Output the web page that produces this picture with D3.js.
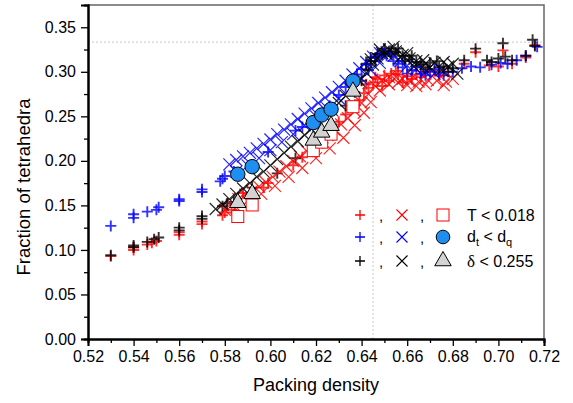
<!DOCTYPE html>
<html>
<head>
<meta charset="utf-8">
<script src="https://cdn.jsdelivr.net/npm/d3@7"></script>
<style>
  body { margin: 0; background: #fff; }
  text { font-family: "Liberation Sans", Arial, sans-serif; }
</style>
</head>
<body>
<svg width="573" height="403"></svg>
<script>
// x ticks / y ticks
const xTicks = [0.52, 0.54, 0.56, 0.58, 0.60, 0.62, 0.64, 0.66, 0.68, 0.70, 0.72];
const yTicks = [0.00, 0.05, 0.10, 0.15, 0.20, 0.25, 0.30, 0.35];

// plus markers [packing density, fraction]
const redPlus = [[0.530,0.093],[0.540,0.100],[0.540,0.103],[0.546,0.106],[0.548,0.108],[0.550,0.110],[0.560,0.117],[0.560,0.120],[0.570,0.129],[0.570,0.132],[0.579,0.139],[0.580,0.142],[0.583,0.145],[0.588,0.164],[0.597,0.170],[0.599,0.175],[0.610,0.195],[0.614,0.204],[0.619,0.211],[0.623,0.220],[0.627,0.232],[0.630,0.244],[0.633,0.252],[0.636,0.260],[0.639,0.268],[0.641,0.276],[0.642,0.286],[0.643,0.282],[0.645,0.288],[0.646,0.294],[0.647,0.292],[0.649,0.284],[0.650,0.296],[0.652,0.290],[0.653,0.298],[0.655,0.301],[0.656,0.297],[0.658,0.288],[0.660,0.295],[0.662,0.292],[0.664,0.297],[0.666,0.294],[0.668,0.300],[0.672,0.301],[0.674,0.296],[0.676,0.300],[0.685,0.309],[0.690,0.322],[0.696,0.307],[0.700,0.306],[0.702,0.324],[0.706,0.309],[0.712,0.316],[0.716,0.330]];
const bluePlus = [[0.530,0.127],[0.540,0.136],[0.540,0.140],[0.546,0.143],[0.550,0.145],[0.551,0.148],[0.560,0.155],[0.560,0.157],[0.570,0.165],[0.570,0.168],[0.578,0.177],[0.579,0.180],[0.580,0.183],[0.584,0.188],[0.599,0.210],[0.611,0.234],[0.614,0.238],[0.626,0.262],[0.630,0.274],[0.633,0.283],[0.636,0.291],[0.638,0.297],[0.640,0.303],[0.642,0.308],[0.644,0.312],[0.646,0.316],[0.648,0.318],[0.651,0.318],[0.654,0.312],[0.656,0.309],[0.658,0.305],[0.660,0.298],[0.662,0.302],[0.664,0.306],[0.666,0.298],[0.668,0.296],[0.670,0.300],[0.672,0.303],[0.674,0.299],[0.676,0.296],[0.680,0.300],[0.684,0.304],[0.688,0.306],[0.692,0.305],[0.697,0.308],[0.701,0.310],[0.704,0.309],[0.708,0.313],[0.712,0.318],[0.717,0.328]];
const blackPlus = [[0.530,0.094],[0.540,0.103],[0.540,0.105],[0.546,0.109],[0.549,0.112],[0.551,0.114],[0.560,0.122],[0.560,0.125],[0.570,0.135],[0.570,0.138],[0.579,0.149],[0.581,0.152],[0.584,0.154],[0.592,0.170],[0.603,0.186],[0.611,0.203],[0.619,0.221],[0.627,0.241],[0.633,0.262],[0.637,0.277],[0.640,0.290],[0.642,0.309],[0.643,0.302],[0.644,0.316],[0.646,0.312],[0.647,0.320],[0.649,0.320],[0.650,0.326],[0.652,0.323],[0.653,0.320],[0.655,0.322],[0.656,0.326],[0.658,0.318],[0.659,0.312],[0.661,0.314],[0.662,0.318],[0.664,0.311],[0.666,0.308],[0.667,0.305],[0.669,0.303],[0.670,0.310],[0.673,0.312],[0.674,0.305],[0.676,0.306],[0.678,0.300],[0.680,0.304],[0.685,0.313],[0.690,0.326],[0.695,0.313],[0.697,0.311],[0.700,0.315],[0.702,0.332],[0.703,0.317],[0.706,0.313],[0.712,0.318],[0.715,0.336],[0.716,0.329]];

// cross markers
const redCross = [[0.580,0.145],[0.583,0.150],[0.585,0.148],[0.586,0.157],[0.589,0.162],[0.590,0.155],[0.592,0.166],[0.595,0.171],[0.596,0.163],[0.598,0.176],[0.601,0.182],[0.602,0.172],[0.604,0.188],[0.607,0.194],[0.608,0.182],[0.610,0.200],[0.613,0.205],[0.614,0.192],[0.616,0.211],[0.619,0.217],[0.620,0.203],[0.622,0.223],[0.625,0.229],[0.626,0.214],[0.628,0.235],[0.631,0.241],[0.632,0.226],[0.634,0.248],[0.637,0.256],[0.637,0.240],[0.640,0.265],[0.641,0.254],[0.643,0.275],[0.644,0.266],[0.646,0.284],[0.648,0.279],[0.649,0.290],[0.652,0.294],[0.652,0.286],[0.655,0.294],[0.656,0.288],[0.658,0.292],[0.660,0.285],[0.661,0.290],[0.664,0.284],[0.665,0.289],[0.668,0.286],[0.669,0.291],[0.673,0.290],[0.676,0.285],[0.677,0.289],[0.680,0.292]];
const blueCross = [[0.582,0.196],[0.585,0.201],[0.585,0.188],[0.588,0.205],[0.590,0.195],[0.591,0.209],[0.594,0.214],[0.595,0.203],[0.597,0.219],[0.600,0.224],[0.600,0.212],[0.603,0.230],[0.605,0.221],[0.606,0.235],[0.609,0.241],[0.610,0.230],[0.612,0.247],[0.615,0.253],[0.615,0.240],[0.618,0.259],[0.620,0.250],[0.621,0.265],[0.624,0.271],[0.625,0.259],[0.627,0.277],[0.630,0.283],[0.630,0.270],[0.633,0.290],[0.635,0.281],[0.636,0.297],[0.639,0.304],[0.640,0.292],[0.642,0.311],[0.644,0.302],[0.645,0.317],[0.648,0.321],[0.648,0.310],[0.651,0.322],[0.654,0.318],[0.657,0.312],[0.660,0.307],[0.664,0.303],[0.668,0.300],[0.672,0.298],[0.676,0.301]];
const blackCross = [[0.576,0.146],[0.579,0.151],[0.582,0.157],[0.585,0.163],[0.588,0.169],[0.591,0.175],[0.594,0.182],[0.597,0.188],[0.600,0.195],[0.603,0.202],[0.606,0.209],[0.609,0.216],[0.612,0.222],[0.615,0.229],[0.618,0.236],[0.621,0.243],[0.624,0.250],[0.627,0.257],[0.630,0.265],[0.633,0.273],[0.636,0.281],[0.639,0.290],[0.642,0.299],[0.644,0.314],[0.645,0.308],[0.647,0.315],[0.648,0.325],[0.649,0.321],[0.651,0.320],[0.652,0.325],[0.654,0.328],[0.655,0.323],[0.657,0.316],[0.658,0.319],[0.660,0.321],[0.661,0.315],[0.663,0.306],[0.664,0.312],[0.667,0.313],[0.668,0.309],[0.670,0.305],[0.672,0.310],[0.675,0.302],[0.676,0.311],[0.678,0.306],[0.680,0.309],[0.682,0.298]];

// threshold crossings
const crossX = [0.5857, 0.592, 0.6188, 0.6225, 0.6266, 0.6362];
const squareY = [0.1375, 0.1505, 0.2115, 0.221, 0.230, 0.2608];
const circleY = [0.185, 0.1935, 0.243, 0.2515, 0.258, 0.2896];
const triangleY = [0.153, 0.163, 0.223, 0.232, 0.2395, 0.278];

const svg = d3.select("svg");
const mLeft = 88, mRight = 544, mTop = 5, mBottom = 339;

const x = d3.scaleLinear().domain([0.52, 0.72]).range([mLeft, mRight]);
const y = d3.scaleLinear().domain([0, 0.375]).range([mBottom, mTop]);

// reference dotted lines
svg.append("line")
  .attr("x1", mLeft).attr("x2", mRight)
  .attr("y1", y(1/3)).attr("y2", y(1/3))
  .attr("stroke", "#c8c8c8").attr("stroke-dasharray", "2,2");
svg.append("line")
  .attr("x1", x(0.645)).attr("x2", x(0.645))
  .attr("y1", mTop).attr("y2", mBottom)
  .attr("stroke", "#c8c8c8").attr("stroke-dasharray", "2,2");

const plusPath = s => `M${-s},0H${s}M0,${-s}V${s}`;
const crossPath = s => `M${-s},${-s}L${s},${s}M${-s},${s}L${s},${-s}`;

function drawPlus(data, color) {
  svg.append("g").selectAll("path").data(data).enter().append("path")
    .attr("transform", d => `translate(${x(d[0])},${y(d[1])})`)
    .attr("d", plusPath(5.5))
    .attr("stroke", color).attr("stroke-width", 1.9).attr("stroke-opacity", 0.8)
    .attr("fill", "none");
}
function drawCross(data, color) {
  svg.append("g").selectAll("path").data(data).enter().append("path")
    .attr("transform", d => `translate(${x(d[0])},${y(d[1])})`)
    .attr("d", crossPath(6))
    .attr("stroke", color).attr("stroke-width", 1.2).attr("stroke-opacity", 0.85)
    .attr("fill", "none");
}

drawPlus(redPlus, "#ff0000");
drawPlus(bluePlus, "#0000ff");
drawPlus(blackPlus, "#000000");
drawCross(redCross, "#ff0000");
drawCross(blueCross, "#0000ff");
drawCross(blackCross, "#000000");

// squares, circles, triangles
svg.append("g").selectAll("rect").data(crossX).enter().append("rect")
  .attr("x", (d) => x(d) - 6).attr("y", (d, i) => y(squareY[i]) - 6)
  .attr("width", 12).attr("height", 12)
  .attr("fill", "#fff").attr("stroke", "#ff0000").attr("stroke-width", 1);
svg.append("g").selectAll("circle").data(crossX).enter().append("circle")
  .attr("cx", d => x(d)).attr("cy", (d, i) => y(circleY[i]))
  .attr("r", 7.2)
  .attr("fill", "#1e8ff0").attr("stroke", "#000").attr("stroke-width", 1);
const tri = d3.symbol().type(d3.symbolTriangle).size(118);
svg.append("g").selectAll("path").data(crossX).enter().append("path")
  .attr("transform", (d, i) => `translate(${x(d)},${y(triangleY[i])})`)
  .attr("d", tri)
  .attr("fill", "#d3d3d3").attr("stroke", "#000").attr("stroke-width", 1);

// frame (top, right)
svg.append("path")
  .attr("d", `M${mLeft},${mTop}H${mRight}V${mBottom}`)
  .attr("fill", "none").attr("stroke", "#666").attr("stroke-width", 1.5);

// axes
const xAxis = d3.axisBottom(x).tickValues(xTicks).tickFormat(d3.format(".2f")).tickSize(7).tickPadding(5);
const xMinor = d3.axisBottom(x).tickValues(d3.range(0.53, 0.72, 0.02)).tickFormat("").tickSize(4);
const yAxis = d3.axisLeft(y).tickValues(yTicks).tickFormat(d3.format(".2f")).tickSize(7).tickPadding(5);
const yMinor = d3.axisLeft(y).tickValues(d3.range(0.025, 0.375, 0.05)).tickFormat("").tickSize(4);

function styleAxis(g) {
  g.select(".domain").attr("stroke-width", 2);
  g.selectAll("line").attr("stroke-width", 1.3);
  g.selectAll("text").attr("font-size", 16).attr("fill", "#000")
    .attr("font-family", "Liberation Sans, Arial, sans-serif");
}
svg.append("g").attr("transform", `translate(0,${mBottom})`).call(xMinor).call(styleAxis);
svg.append("g").attr("transform", `translate(0,${mBottom})`).call(xAxis).call(styleAxis);
svg.append("g").attr("transform", `translate(${mLeft},0)`).call(yMinor).call(styleAxis);
svg.append("g").attr("transform", `translate(${mLeft},0)`).call(yAxis).call(styleAxis);

// titles
svg.append("text").attr("x", (mLeft + mRight) / 2).attr("y", 391)
  .attr("text-anchor", "middle").attr("font-size", 18).text("Packing density");
svg.append("text").attr("transform", `translate(30,187) rotate(-90)`)
  .attr("text-anchor", "middle").attr("font-size", 18.5).text("Fraction of tetrahedra");

// legend
const legRows = [
  { color: "#ff0000", yy: 215 },
  { color: "#0000ff", yy: 237 },
  { color: "#000000", yy: 261 }
];
const lg = svg.append("g");
legRows.forEach((r, i) => {
  lg.append("path").attr("transform", `translate(360,${r.yy})`).attr("d", plusPath(5))
    .attr("stroke", r.color).attr("stroke-width", 1.3).attr("fill", "none");
  lg.append("path").attr("transform", `translate(402,${r.yy})`).attr("d", crossPath(5.5))
    .attr("stroke", r.color).attr("stroke-width", 1.1).attr("fill", "none");
  [381, 422].forEach(cx => lg.append("text").attr("x", cx).attr("y", r.yy + 6)
    .attr("font-size", 15).attr("text-anchor", "middle").text(","));
});
lg.append("rect").attr("x", 437).attr("y", 209).attr("width", 12).attr("height", 12)
  .attr("fill", "#fff").attr("stroke", "#ff0000");
lg.append("circle").attr("cx", 443).attr("cy", 237).attr("r", 6.8)
  .attr("fill", "#1e8ff0").attr("stroke", "#000");
lg.append("path").attr("transform", "translate(443,261)").attr("d", tri)
  .attr("fill", "#d3d3d3").attr("stroke", "#000");

lg.append("text").attr("x", 467).attr("y", 221).attr("font-size", 16).text("T < 0.018");
const t2 = lg.append("text").attr("x", 467).attr("y", 242).attr("font-size", 16);
t2.append("tspan").text("d");
t2.append("tspan").attr("font-size", 11).attr("dy", 4).text("t");
t2.append("tspan").attr("dy", -4).text(" < d");
t2.append("tspan").attr("font-size", 11).attr("dy", 4).text("q");
const t3 = lg.append("text").attr("x", 467).attr("y", 267).attr("font-size", 16);
t3.append("tspan").attr("font-family", "Liberation Serif, serif").attr("font-size", 17).text("δ");
t3.append("tspan").text(" < 0.255");
</script>
</body>
</html>
